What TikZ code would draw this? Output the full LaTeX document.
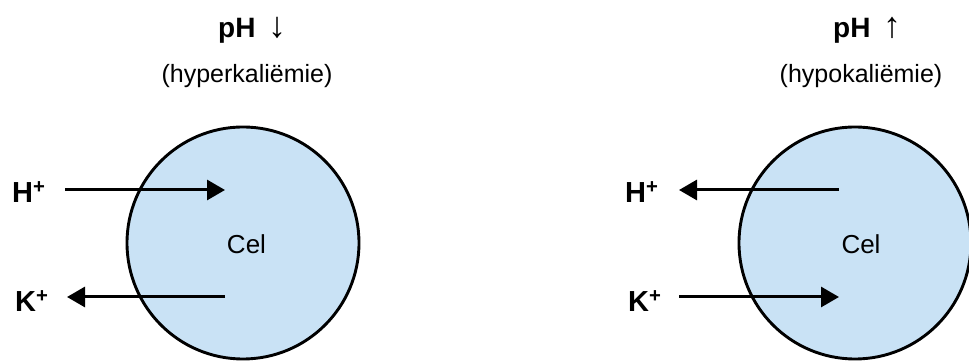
\documentclass[tikz,border=0pt]{standalone}
\usepackage{fontspec}
\setmainfont{Liberation Sans}
\usetikzlibrary{arrows.meta}
\definecolor{cellblue}{HTML}{C9E2F5}
\begin{document}
\begin{tikzpicture}[x=1pt,y=1pt,
  cell/.style={circle,draw=black,line width=2.9pt,fill=cellblue,minimum size=232pt,inner sep=0pt},
  ion/.style={font=\fontsize{29}{34}\selectfont\bfseries,inner sep=0pt,anchor=base west},
  title/.style={font=\fontsize{28}{32}\selectfont\bfseries,inner sep=0pt,anchor=base west},
  sub/.style={font=\fontsize{25}{30}\selectfont,inner sep=0pt},
  celltext/.style={font=\fontsize{26}{30}\selectfont,inner sep=0pt,anchor=base},
  flow/.style={line width=3pt,-{Triangle[length=18pt,width=20pt]}}]
\useasboundingbox (0,0) rectangle (969,363);
\clip (0,0) rectangle (969,363);
% left
\node[cell] (c1) at (243,120) {};
\node[celltext] (t1) at (246.5,109) {Cel};
\node[title] (p1) at (218,325) {pH\hspace{13pt}{\fontsize{36}{36}\selectfont ↓}};
\node[sub] (s1) at (247,287) {(hyperkaliëmie)};
\node[ion] (h1) at (12,160) {H\textsuperscript{+}};
\node[ion] (k1) at (15,51) {K\textsuperscript{+}};
\coordinate (h1a) at (65,173);
\coordinate (h1b) at (225,173);
\coordinate (k1a) at (225,66);
\coordinate (k1b) at (67,66);
\draw[flow] (h1a) -- (h1b);
\draw[flow] (k1a) -- (k1b);
% right
\node[cell] (c2) at (855,120) {};
\node[celltext] (t2) at (861,109) {Cel};
\node[title] (p2) at (833,325) {pH\hspace{13pt}{\fontsize{36}{36}\selectfont ↑}};
\node[sub] (s2) at (861,287) {(hypokaliëmie)};
\node[ion] (h2) at (625,160) {H\textsuperscript{+}};
\node[ion] (k2) at (628,51) {K\textsuperscript{+}};
\coordinate (h2a) at (839,173);
\coordinate (h2b) at (679,173);
\coordinate (k2a) at (679,66);
\coordinate (k2b) at (839,66);
\draw[flow] (h2a) -- (h2b);
\draw[flow] (k2a) -- (k2b);
\end{tikzpicture}
\end{document}
